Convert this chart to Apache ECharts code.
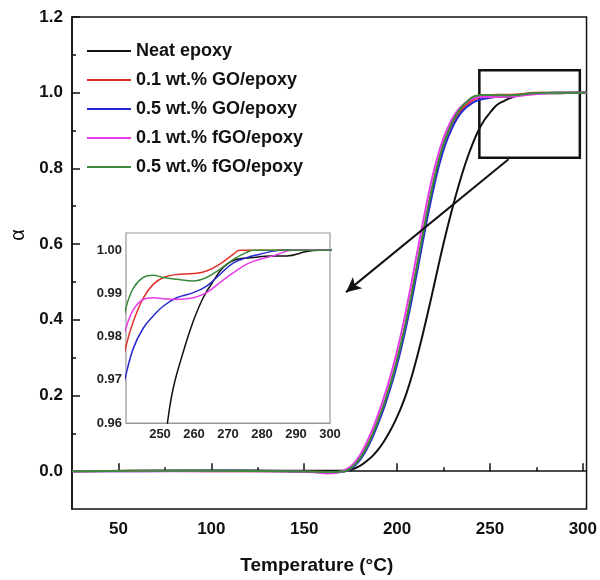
<!DOCTYPE html>
<html>
<head>
<meta charset="utf-8">
<script src="https://cdn.jsdelivr.net/npm/echarts@6.0.0/dist/echarts.min.js"></script>
<style>
    html, body { margin: 0; padding: 0; background: #fff; }
    #cure-chart { width: 600px; height: 580px; }
</style>
</head>
<body>
<div id="cure-chart"></div>
<script>
// [temperature, alpha] (main plot + zoomed inset)
const neatEpoxy = [
    [25, 0], [60, 0.001], [100, 0.002], [140, 0.001], [172, 0.001], [175, 0.004], [178, 0.009],
    [181, 0.017], [184, 0.028], [187, 0.041], [190, 0.058], [193, 0.079], [196, 0.104],
    [199, 0.133], [202, 0.166], [205, 0.205], [208, 0.252], [211, 0.306], [214, 0.365],
    [217, 0.428], [220, 0.493], [223, 0.559], [226, 0.622], [229, 0.68], [232, 0.735],
    [235, 0.785], [238, 0.83], [241, 0.869], [244, 0.902], [247, 0.928], [250, 0.947],
    [252, 0.959], [253.9, 0.9681], [256.9, 0.9766], [259.8, 0.9836], [262.7, 0.989],
    [265.7, 0.9929], [268.6, 0.996], [272.5, 0.9979], [277.5, 0.9983], [282.4, 0.9987],
    [287.3, 0.9987], [293.1, 0.9997], [297, 1.0], [302, 1.0]
];
const go01 = [
    [25, 0], [60, 0.001], [100, 0], [140, 0], [165, -0.002], [172, 0], [175, 0.0075], [178, 0.021],
    [181, 0.0405], [184, 0.067], [187, 0.0994], [190, 0.1363], [193, 0.1774], [196, 0.223],
    [199, 0.2746], [202, 0.3331], [205, 0.3991], [208, 0.472], [211, 0.5494], [214, 0.628],
    [217, 0.7036], [220, 0.772], [223, 0.8305], [226, 0.8779], [229, 0.912], [232, 0.938],
    [235, 0.957], [238, 0.97], [240, 0.9778], [242.2, 0.9836], [245.1, 0.989], [248, 0.9921],
    [251, 0.9937], [254.9, 0.9944], [259.8, 0.9946], [263.7, 0.9952], [267.6, 0.9968],
    [271.6, 0.9991], [273.5, 1.0], [302, 1.0]
];
const go05 = [
    [25, 0], [60, 0], [100, 0.001], [140, 0], [165, -0.003], [172, 0], [175, 0.006], [178, 0.018],
    [181, 0.036], [184, 0.061], [187, 0.092], [190, 0.128], [193, 0.168], [196, 0.213],
    [199, 0.263], [202, 0.32], [205, 0.384], [208, 0.455], [211, 0.532], [214, 0.61],
    [217, 0.686], [220, 0.755], [223, 0.815], [226, 0.863], [229, 0.9], [232, 0.929],
    [235, 0.95], [238, 0.964], [240, 0.9712], [242.2, 0.9774], [245.1, 0.982], [248, 0.9848],
    [251, 0.9871], [254.9, 0.989], [259.8, 0.9902], [263.7, 0.9917], [267.6, 0.9944],
    [271.6, 0.9971], [275.5, 0.9983], [279.4, 0.9991], [283.3, 0.9998], [285.3, 1.0], [302, 1.0]
];
const fgo01 = [
    [25, 0], [60, 0], [100, 0], [140, -0.001], [155, -0.003], [162, -0.006], [168, -0.004],
    [171, 0.001], [174, 0.0085], [177, 0.022], [180, 0.042], [183, 0.069], [186, 0.102],
    [189, 0.139], [192, 0.181], [195, 0.227], [198, 0.279], [201, 0.338], [204, 0.405],
    [207, 0.478], [210, 0.556], [213, 0.634], [216, 0.709], [219, 0.777], [222, 0.834],
    [225, 0.88], [228, 0.915], [231, 0.942], [234, 0.961], [237, 0.974], [240, 0.982],
    [242.2, 0.9863], [245.1, 0.9886], [248, 0.989], [251, 0.9888], [254.9, 0.9886],
    [259.8, 0.989], [263.7, 0.9902], [267.6, 0.9925], [271.6, 0.9948], [275.5, 0.9968],
    [279.4, 0.9979], [283.3, 0.9987], [287.3, 0.9998], [289, 1.0], [302, 1.0]
];
const fgo05 = [
    [25, 0], [60, 0.001], [100, 0.001], [140, 0], [165, -0.002], [172, 0], [175, 0.0075], [178, 0.021],
    [181, 0.0405], [184, 0.067], [187, 0.0994], [190, 0.1363], [193, 0.1774], [196, 0.223],
    [199, 0.2746], [202, 0.3331], [205, 0.3991], [208, 0.472], [211, 0.5494], [214, 0.628],
    [217, 0.7036], [220, 0.772], [223, 0.8305], [226, 0.8779], [229, 0.9145], [232, 0.9421],
    [235, 0.9635], [238, 0.978], [240, 0.9867], [242.2, 0.9913], [245.1, 0.9937], [248, 0.9942],
    [251, 0.9937], [254.9, 0.9933], [259.8, 0.9929], [263.7, 0.9937], [267.6, 0.9956],
    [271.6, 0.9979], [275.5, 0.9995], [277.5, 1.0], [302, 1.0]
];

const seriesNames = ['Neat epoxy', '0.1 wt.% GO/epoxy', '0.5 wt.% GO/epoxy', '0.1 wt.% fGO/epoxy', '0.5 wt.% fGO/epoxy'];
const seriesColors = ['#111111', '#e0302c', '#2828d0', '#e83ce8', '#3a8a3a'];
const seriesData = [neatEpoxy, go01, go05, fgo01, fgo05];

// tick labels
const tempTicks = [50, 100, 150, 200, 250, 300];
const tempMinorTicks = [75, 125, 175, 225, 275];
const alphaTicks = [0, 0.2, 0.4, 0.6, 0.8, 1.0, 1.2];
const alphaMinorTicks = [0.1, 0.3, 0.5, 0.7, 0.9, 1.1];
const insetTempTicks = [250, 260, 270, 280, 290, 300];
const insetTempMinor = [245, 250, 255, 260, 265, 270, 275, 280, 285, 290, 295];
const insetAlphaTicks = [0.96, 0.97, 0.98, 0.99, 1.00];
const insetAlphaMinor = [0.965, 0.97, 0.975, 0.98, 0.985, 0.99, 0.995];

// zoom box and arrow, in data coords of the main plot
const zoomBox = [[244.3, 1.059], [298.4, 0.828]];
const arrowFrom = [260, 0.824];
const arrowTo = [172.5, 0.473];

const FONT = '"Liberation Sans", Arial, sans-serif';

const cureChart = echarts.init(document.getElementById('cure-chart'));

const mainSeries = seriesNames.map((name, i) => ({
    name: name,
    type: 'line',
    xAxisIndex: 0,
    yAxisIndex: 0,
    data: seriesData[i],
    symbol: 'none',
    smooth: 0.3,
    lineStyle: { color: seriesColors[i], width: 2 },
    itemStyle: { color: seriesColors[i] },
    z: 3
}));

mainSeries[0].markArea = {
    silent: true,
    itemStyle: { color: 'rgba(0,0,0,0)', borderColor: '#111', borderWidth: 2.5 },
    data: [[{ coord: zoomBox[0] }, { coord: zoomBox[1] }]]
};
mainSeries[0].markLine = {
    silent: true,
    symbol: ['none', 'arrow'],
    symbolSize: [11, 15],
    label: { show: false },
    lineStyle: { color: '#111', width: 2, type: 'solid' },
    data: [[{ coord: arrowFrom }, { coord: arrowTo }]]
};

const insetSeries = seriesNames.map((name, i) => ({
    name: name,
    type: 'line',
    xAxisIndex: 2,
    yAxisIndex: 2,
    data: seriesData[i],
    symbol: 'none',
    smooth: 0.4,
    clip: true,
    lineStyle: { color: seriesColors[i], width: 1.5 },
    itemStyle: { color: seriesColors[i] },
    z: 5
}));

cureChart.setOption({
    animation: false,
    backgroundColor: '#fff',
    textStyle: { fontFamily: FONT },
    legend: {
        data: seriesNames,
        orient: 'vertical',
        left: 82,
        top: 36,
        icon: 'rect',
        itemWidth: 44,
        itemHeight: 2,
        itemGap: 9,
        textStyle: { fontFamily: FONT, fontSize: 18, fontWeight: 'bold', color: '#111', lineHeight: 20 }
    },
    grid: [
        { left: 72, top: 17, right: 13, bottom: 70, show: true, borderColor: '#111', borderWidth: 1.5 },
        { left: 126, top: 233, width: 204, height: 190, show: true, backgroundColor: '#fff', borderColor: '#999', borderWidth: 1.2, z: 4 }
    ],
    xAxis: [
        {
            type: 'value', gridIndex: 0, min: 25, max: 302,
            name: 'Temperature (°C)', nameLocation: 'middle', nameGap: 47,
            nameTextStyle: { fontFamily: FONT, fontSize: 19, fontWeight: 'bold', color: '#111', padding: [0, 25, 0, 0] },
            axisLine: { lineStyle: { color: '#111', width: 1.5 } },
            axisTick: { inside: true, length: 8, customValues: tempTicks, lineStyle: { color: '#111', width: 1.5 } },
            axisLabel: { customValues: tempTicks, fontFamily: FONT, fontSize: 17, fontWeight: 'bold', color: '#111', margin: 12 },
            splitLine: { show: false }
        },
        {
            type: 'value', gridIndex: 0, min: 25, max: 302, position: 'bottom',
            axisLine: { show: false },
            axisTick: { inside: true, length: 4, customValues: tempMinorTicks, lineStyle: { color: '#111', width: 1.5 } },
            axisLabel: { show: false },
            splitLine: { show: false }
        },
        {
            type: 'value', gridIndex: 1, min: 240, max: 300,
            axisLine: { lineStyle: { color: '#999', width: 1.2 } },
            axisTick: { inside: true, length: 3, customValues: insetTempMinor, lineStyle: { color: '#888' } },
            axisLabel: { customValues: insetTempTicks, fontFamily: FONT, fontSize: 13, fontWeight: 'bold', color: '#222', margin: 5 },
            splitLine: { show: false }
        }
    ],
    yAxis: [
        {
            type: 'value', gridIndex: 0, min: -0.1, max: 1.2,
            name: 'α', nameLocation: 'middle', nameGap: 42, nameRotate: 90,
            nameTextStyle: { fontFamily: FONT, fontSize: 20, color: '#111', padding: [0, 0, 0, 56] },
            axisLine: { lineStyle: { color: '#111', width: 1.5 } },
            axisTick: { inside: true, length: 8, customValues: alphaTicks, lineStyle: { color: '#111', width: 1.5 } },
            axisLabel: {
                customValues: alphaTicks, fontFamily: FONT, fontSize: 17, fontWeight: 'bold', color: '#111', margin: 9,
                formatter: v => v.toFixed(1)
            },
            splitLine: { show: false }
        },
        {
            type: 'value', gridIndex: 0, min: -0.1, max: 1.2, position: 'left',
            axisLine: { show: false },
            axisTick: { inside: true, length: 4, customValues: alphaMinorTicks, lineStyle: { color: '#111', width: 1.5 } },
            axisLabel: { show: false },
            splitLine: { show: false }
        },
        {
            type: 'value', gridIndex: 1, min: 0.96, max: 1.004,
            axisLine: { lineStyle: { color: '#999', width: 1.2 } },
            axisTick: { inside: true, length: 3, customValues: insetAlphaMinor, lineStyle: { color: '#888' } },
            axisLabel: {
                customValues: insetAlphaTicks, fontFamily: FONT, fontSize: 13, fontWeight: 'bold', color: '#222', margin: 4,
                formatter: v => v.toFixed(2)
            },
            splitLine: { show: false }
        }
    ],
    series: mainSeries.concat(insetSeries)
});

window.onresize = function () {
    cureChart.resize();
};
</script>
</body>
</html>
